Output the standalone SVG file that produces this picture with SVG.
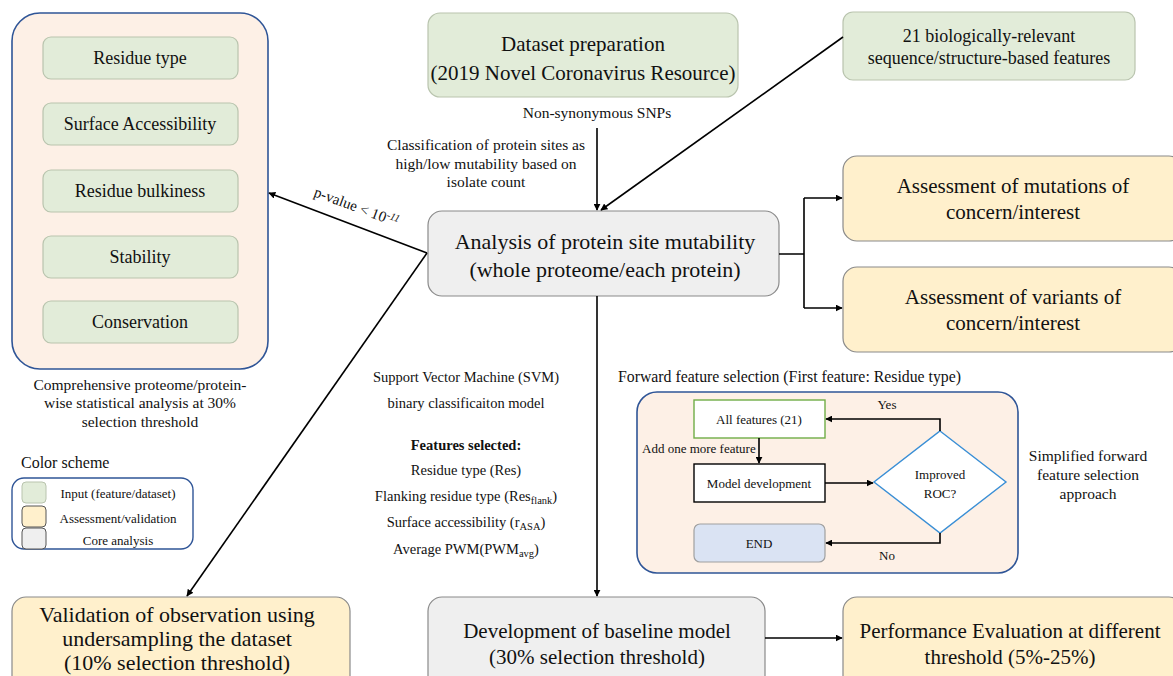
<svg xmlns="http://www.w3.org/2000/svg" width="1173" height="676" viewBox="0 0 1173 676" font-family="Liberation Serif, DejaVu Serif, serif">
<style>
text{fill:#111;text-anchor:middle}
.green{fill:#e2ecd9;stroke:#b9c4ae;stroke-width:1.2}
.yellow{fill:#fff0cc;stroke:#8a8a8a;stroke-width:1.2}
.gray{fill:#efefef;stroke:#8a8a8a;stroke-width:1.2}
.peach{fill:#fdf0e6;stroke:#2f5597;stroke-width:1.6}
.big{font-size:21px}
.mid{font-size:18px}
.cap{font-size:15.5px}
.sm{font-size:14.5px}
.xs{font-size:13px}
.ln{fill:none;stroke:#000;stroke-width:1.6}
</style>
<defs>
<marker id="ah" viewBox="0 0 10 10" refX="9" refY="5" markerWidth="7" markerHeight="7" markerUnits="userSpaceOnUse" orient="auto"><path d="M0,0 L10,5 L0,10 z" fill="#000"/></marker>
</defs>

<g id="stat-panel">
<rect class="peach" x="12" y="13" width="256" height="356" rx="28"/>
<rect class="green" x="43" y="37" width="195" height="42" rx="8"/>
<text class="mid" x="140" y="64">Residue type</text>
<rect class="green" x="43" y="103" width="195" height="42" rx="8"/>
<text class="mid" x="140" y="130">Surface Accessibility</text>
<rect class="green" x="43" y="170" width="195" height="42" rx="8"/>
<text class="mid" x="140" y="197">Residue bulkiness</text>
<rect class="green" x="43" y="236" width="195" height="42" rx="8"/>
<text class="mid" x="140" y="263">Stability</text>
<rect class="green" x="43" y="301" width="195" height="42" rx="8"/>
<text class="mid" x="140" y="328">Conservation</text>
<text class="cap" x="140" y="390">Comprehensive proteome/protein-</text>
<text class="cap" x="140" y="408">wise statistical analysis at 30%</text>
<text class="cap" x="140" y="427">selection threshold</text>
</g>

<g id="dataset">
<rect class="green" x="428" y="13" width="310" height="84" rx="12"/>
<text class="big" x="583" y="51">Dataset preparation</text>
<text class="big" x="583" y="80">(2019 Novel Coronavirus Resource)</text>
</g>

<g id="features21">
<rect class="green" x="843" y="12" width="292" height="68" rx="10"/>
<text style="font-size:18px" x="989" y="42">21 biologically-relevant</text>
<text style="font-size:18px" x="989" y="64">sequence/structure-based features</text>
</g>

<g id="analysis">
<rect class="gray" x="428" y="211" width="351" height="85" rx="14"/>
<text style="font-size:22px" x="605" y="249">Analysis of protein site mutability</text>
<text style="font-size:22px" x="605" y="277">(whole proteome/each protein)</text>
</g>

<g id="mutations">
<rect class="yellow" x="843" y="156" width="340" height="85" rx="14"/>
<text class="big" x="1013" y="193">Assessment of mutations of</text>
<text class="big" x="1013" y="219">concern/interest</text>
</g>

<g id="variants">
<rect class="yellow" x="843" y="267" width="340" height="85" rx="14"/>
<text class="big" x="1013" y="304">Assessment of variants of</text>
<text class="big" x="1013" y="330">concern/interest</text>
</g>

<g id="validation">
<rect class="yellow" x="12" y="597" width="338" height="95" rx="14"/>
<text style="font-size:22px" x="177" y="622">Validation of observation using</text>
<text style="font-size:22px" x="177" y="646">undersampling the dataset</text>
<text style="font-size:22px" x="177" y="670">(10% selection threshold)</text>
</g>

<g id="baseline">
<rect class="gray" x="428" y="597" width="337" height="95" rx="14"/>
<text class="big" x="597" y="638">Development of baseline model</text>
<text class="big" x="597" y="664">(30% selection threshold)</text>
</g>

<g id="performance">
<rect class="yellow" x="843" y="597" width="340" height="95" rx="14"/>
<text class="big" x="1010" y="638">Performance Evaluation at different</text>
<text class="big" x="1010" y="664">threshold (5%-25%)</text>
</g>

<g id="svm-text">
<text class="sm" x="466" y="382">Support Vector Machine (SVM)</text>
<text class="sm" x="466" y="408">binary classificaiton model</text>
<text class="sm" x="466" y="450" font-weight="bold">Features selected:</text>
<text class="sm" x="466" y="475">Residue type (Res)</text>
<text class="sm" x="466" y="501">Flanking residue type (Res<tspan font-size="10.5" dy="3">flank</tspan><tspan dy="-3">)</tspan></text>
<text class="sm" x="466" y="527">Surface accessibility (r<tspan font-size="10.5" dy="3">ASA</tspan><tspan dy="-3">)</tspan></text>
<text class="sm" x="466" y="554">Average PWM(PWM<tspan font-size="10.5" dy="3">avg</tspan><tspan dy="-3">)</tspan></text>
</g>

<g id="ffs">
<text style="font-size:15.8px;text-anchor:start" x="618" y="382">Forward feature selection (First feature: Residue type)</text>
<rect class="peach" x="637" y="392" width="381" height="181" rx="20"/>
<rect x="694" y="400" width="131" height="38" fill="#fff" stroke="#70ad47" stroke-width="1.4"/>
<text class="xs" x="759" y="424">All features (21)</text>
<rect x="694" y="464" width="131" height="38" fill="#fff" stroke="#000" stroke-width="1.4"/>
<text class="xs" x="759" y="488">Model development</text>
<rect x="694" y="524" width="131" height="38" rx="6" fill="#dae3f3" stroke="#a0a0a0" stroke-width="1.2"/>
<text class="xs" x="759" y="548">END</text>
<polygon points="940,431 1006,482 940,533 874,482" fill="#fff" stroke="#3a8fd6" stroke-width="1.4"/>
<text class="xs" x="940" y="479">Improved</text>
<text class="xs" x="940" y="498">ROC?</text>
<text class="xs" x="887" y="409">Yes</text>
<text class="xs" x="887" y="560">No</text>
<text class="xs" x="642" y="453" style="text-anchor:start">Add one more feature</text>
<path class="ln" d="M759,438 L759,463" marker-end="url(#ah)"/>
<path class="ln" d="M825,483 L873,483" marker-end="url(#ah)"/>
<path class="ln" d="M940,431 L940,419 L826,419" marker-end="url(#ah)"/>
<path class="ln" d="M940,533 L940,543 L826,543" marker-end="url(#ah)"/>
<text class="cap" x="1088" y="461">Simplified forward</text>
<text class="cap" x="1088" y="480">feature selection</text>
<text class="cap" x="1088" y="499">approach</text>
</g>

<g id="legend">
<text style="font-size:16px;text-anchor:start" x="21" y="468">Color scheme</text>
<rect x="12" y="478" width="181" height="71" rx="12" fill="#fff" stroke="#2f5597" stroke-width="1.4"/>
<rect x="22" y="482" width="24" height="21" rx="4" fill="#e2ecd9" stroke="#b9c4ae"/>
<rect x="22" y="506" width="24" height="21" rx="4" fill="#fff0cc" stroke="#555"/>
<rect x="22" y="528" width="24" height="21" rx="4" fill="#efefef" stroke="#555"/>
<text class="xs" x="118" y="498">Input (feature/dataset)</text>
<text class="xs" x="118" y="523">Assessment/validation</text>
<text class="xs" x="118" y="545">Core analysis</text>
</g>

<g id="connectors">
<text class="cap" x="597" y="118">Non-synonymous SNPs</text>
<text class="cap" x="486" y="150">Classification of protein sites as</text>
<text class="cap" x="486" y="169">high/low mutability based on</text>
<text class="cap" x="486" y="187">isolate count</text>
<path class="ln" d="M597,128 L597,210" marker-end="url(#ah)"/>
<path class="ln" d="M843,37 L601,210" marker-end="url(#ah)"/>
<path class="ln" d="M427,253 L269,193" marker-end="url(#ah)"/>
<path class="ln" d="M427,253 L187,596" marker-end="url(#ah)"/>
<text style="font-size:15px;text-anchor:start" transform="translate(313,196) rotate(20.4)">p-value &lt; 10<tspan font-size="10.5" font-style="italic" dy="-5">-11</tspan></text>
<path class="ln" d="M779,254 L804,254 M804,198 L804,308"/>
<path class="ln" d="M804,198 L842,198" marker-end="url(#ah)"/>
<path class="ln" d="M804,308 L842,308" marker-end="url(#ah)"/>
<path class="ln" d="M597,296 L597,596" marker-end="url(#ah)"/>
<path class="ln" d="M765,638 L842,638" marker-end="url(#ah)"/>
</g>
</svg>
